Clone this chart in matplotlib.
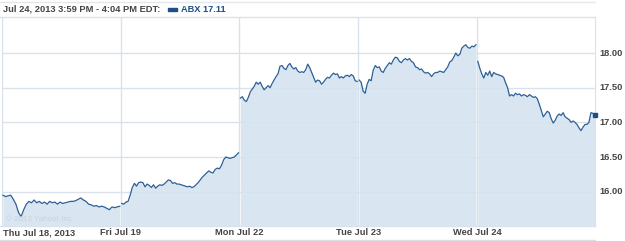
import numpy as np
import matplotlib
matplotlib.use("Agg")
import matplotlib.pyplot as plt

# ABX 5-min prices per trading day
thu = [15.95, 15.93, 15.94, 15.95, 15.89, 15.82, 15.70, 15.64, 15.74, 15.82, 15.86, 15.84,
       15.88, 15.84, 15.86, 15.83, 15.85, 15.82, 15.86, 15.84, 15.85, 15.82, 15.85, 15.83,
       15.84, 15.85, 15.86, 15.86, 15.87, 15.89, 15.91, 15.88, 15.86, 15.82, 15.81, 15.79,
       15.80, 15.78, 15.79, 15.78, 15.76, 15.74, 15.78, 15.77, 15.78, 15.79]
fri = [15.83, 15.82, 15.85, 15.86, 15.95, 16.06, 16.12, 16.08, 16.13, 16.14, 16.13, 16.07,
       16.11, 16.09, 16.06, 16.10, 16.05, 16.08, 16.10, 16.09, 16.11, 16.14, 16.17, 16.16,
       16.12, 16.13, 16.11, 16.11, 16.10, 16.09, 16.08, 16.07, 16.08, 16.06, 16.07, 16.10,
       16.13, 16.17, 16.21, 16.24, 16.27, 16.30, 16.28, 16.27, 16.32, 16.34, 16.33, 16.38,
       16.46, 16.50, 16.49, 16.48, 16.49, 16.50, 16.53, 16.56]
mon = [17.35, 17.37, 17.32, 17.30, 17.36, 17.44, 17.48, 17.52, 17.58, 17.55, 17.58, 17.52,
       17.47, 17.50, 17.53, 17.50, 17.56, 17.61, 17.66, 17.70, 17.81, 17.82, 17.78, 17.76,
       17.82, 17.85, 17.80, 17.77, 17.79, 17.74, 17.72, 17.73, 17.72, 17.76, 17.84, 17.79,
       17.72, 17.65, 17.58, 17.61, 17.60, 17.55, 17.58, 17.62, 17.65, 17.64, 17.68, 17.71,
       17.69, 17.70, 17.64, 17.66, 17.64, 17.67, 17.68, 17.66, 17.69, 17.67, 17.60, 17.59]
tue = [17.61, 17.58, 17.45, 17.42, 17.55, 17.62, 17.60, 17.75, 17.82, 17.79, 17.80, 17.74,
       17.72, 17.78, 17.82, 17.86, 17.84, 17.90, 17.94, 17.93, 17.88, 17.86, 17.90, 17.92,
       17.90, 17.92, 17.88, 17.86, 17.80, 17.79, 17.76, 17.77, 17.73, 17.71, 17.72, 17.70,
       17.66, 17.70, 17.72, 17.72, 17.74, 17.73, 17.72, 17.76, 17.80, 17.87, 17.89, 17.94,
       18.00, 17.96, 17.98, 18.07, 18.10, 18.12, 18.08, 18.07, 18.10, 18.09, 18.12]
wed = [17.88, 17.78, 17.70, 17.64, 17.72, 17.68, 17.74, 17.66, 17.72, 17.70, 17.69, 17.68,
       17.67, 17.65, 17.57, 17.50, 17.38, 17.40, 17.38, 17.42, 17.40, 17.41, 17.38, 17.40,
       17.39, 17.37, 17.40, 17.38, 17.36, 17.37, 17.34, 17.26, 17.17, 17.08, 17.12, 17.16,
       17.14, 17.05, 16.99, 17.03, 17.09, 17.12, 17.10, 17.14, 17.08, 17.06, 17.04, 17.00,
       17.02, 17.00, 16.97, 16.92, 16.88, 16.93, 16.97, 16.97, 17.00, 17.14, 17.13, 17.11]

days = [thu, fri, mon, tue, wed]
day_labels = ["Thu Jul 18, 2013", "Fri Jul 19", "Mon Jul 22", "Tue Jul 23", "Wed Jul 24"]
y_ticks = [16.0, 16.5, 17.0, 17.5, 18.0]
header = "Jul 24, 2013 3:59 PM - 4:04 PM EDT:"
legend_text = "ABX 17.11"

line_color = "#2d5f94"
fill_color = "#d5e4f0"
grid_color = "#d9e2ea"
text_color = "#444444"
fs = 6.7

plt.rcParams["font.family"] = ["Liberation Sans", "DejaVu Sans"]

fig = plt.figure(figsize=(6.25, 2.41), dpi=100)
ax = fig.add_axes([2 / 625, 15 / 241, 593 / 625, 209 / 241])
ax.set_xlim(0, 4.995)
ax.set_ylim(15.505, 18.52)

# grid
for y in y_ticks:
    ax.axhline(y, color=grid_color, lw=1, zorder=0)
for d in range(5):
    ax.axvline(d, color=grid_color, lw=1, zorder=0)

# each trading day drawn separately
end_day = 4
for d, vals in enumerate(days):
    start = d + 0.008
    stop = d + 0.992 if d < end_day else d + 0.994
    x = np.linspace(start, stop, len(vals))
    ax.fill_between(x, 15.3, vals, color=fill_color, alpha=0.9, lw=0, zorder=1)
    ax.plot(x, vals, color=line_color, lw=0.9, zorder=3)

last_x = 4.994
ax.plot([last_x], [wed[-1]], marker="s", ms=3.5, color="#1f4f88", zorder=4, clip_on=False)

ax.set_xticks([])
ax.set_yticks([])
for s in ["left", "top", "bottom"]:
    ax.spines[s].set_visible(False)
ax.spines["right"].set_color(grid_color)

# y tick labels on the right
for y in y_ticks:
    ax.text(5.03, y, f"{y:.2f}", fontsize=fs, fontweight="bold", color=text_color,
            va="center", ha="left", transform=ax.transData, clip_on=False)

# day labels under the axis
for d, lab in enumerate(day_labels):
    ha = "left" if d == 0 else "center"
    xx = 0.01 if d == 0 else d
    ax.text(xx, 15.505 - 0.1, lab, fontsize=fs, fontweight="bold", color=text_color,
            ha=ha, va="center", clip_on=False)

ax.text(0.03, 15.6, "\u00a9 2013 Yahoo! Inc.", fontsize=5.8, color="#c6d2dc", ha="left", va="center")

# header and frame lines
fig.text(3 / 625, 1 - 9 / 241, header, fontsize=fs, color=text_color, fontweight="bold",
         ha="left", va="center")
fig.patches.append(plt.Rectangle((168 / 625, 1 - 10.5 / 241), 9 / 625, 3 / 241,
                                 transform=fig.transFigure, color="#1f4f88"))
fig.text(181 / 625, 1 - 9 / 241, legend_text, fontsize=fs, color="#1f4f88", fontweight="bold",
         ha="left", va="center")
fig.add_artist(plt.Line2D([0, 595 / 625], [1 - 2 / 241, 1 - 2 / 241], color="#e3e8ed", lw=1))
fig.add_artist(plt.Line2D([0, 595 / 625], [1 - 17 / 241, 1 - 17 / 241], color=grid_color, lw=1))
fig.add_artist(plt.Line2D([0, 595 / 625], [15 / 241, 15 / 241], color=grid_color, lw=1))
fig.add_artist(plt.Line2D([0, 595 / 625], [1.5 / 241, 1.5 / 241], color="#dddddd", lw=1))

fig.savefig("out.png", dpi=100)
